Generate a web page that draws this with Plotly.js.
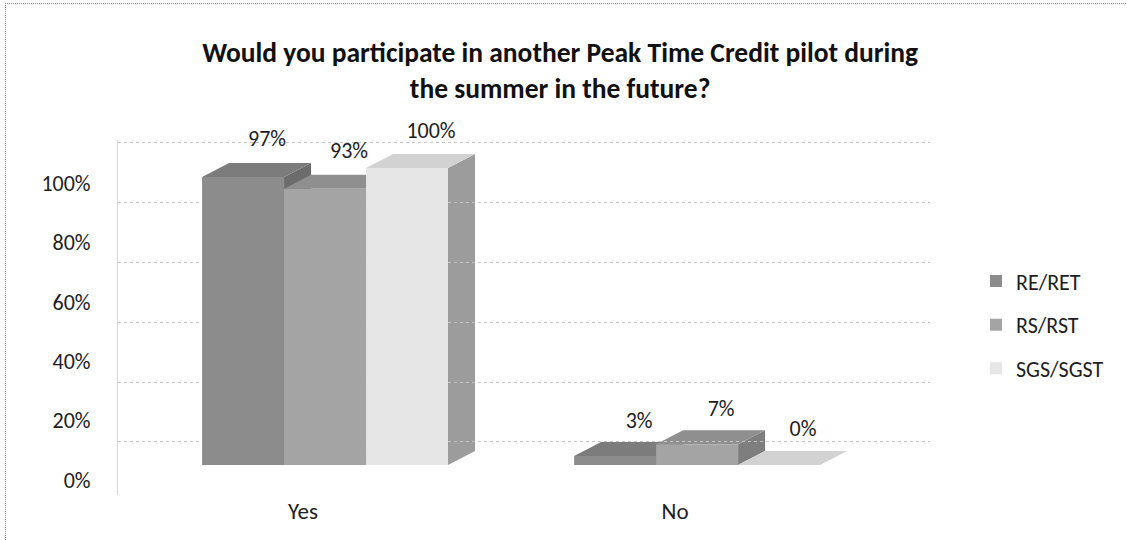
<!DOCTYPE html>
<html>
<head>
<meta charset="utf-8">
<script src="https://cdn.plot.ly/plotly-3.0.1.min.js"></script>
<style>
  html, body { margin: 0; padding: 0; background: #ffffff; }
  #frame {
    position: absolute; left: 5px; top: 3px; width: 1140px; height: 560px;
    border-left: 1px dotted #8a8a8a; border-top: 1px dotted #8a8a8a;
    pointer-events: none; z-index: 5;
  }
  #chart { position: absolute; left: 0; top: 0; width: 1127px; height: 540px; }
</style>
</head>
<body>
<div id="chart"></div>
<div id="frame"></div>
<script>
// Survey answers, share of respondents per rate group
const categories = ['Yes', 'No'];
const seriesNames = ['RE/RET', 'RS/RST', 'SGS/SGST'];
const reRet = [0.97, 0.03];
const rsRst = [0.93, 0.07];
const sgsSgst = [1.00, 0.00];
const percentTicks = [0, 0.2, 0.4, 0.6, 0.8, 1.0];
const percentTickText = ['0%', '20%', '40%', '60%', '80%', '100%'];

const seriesValues = [reRet, rsRst, sgsSgst];

// face shades for each series: front, top, side
const frontColors = ['#8c8c8c', '#a4a4a4', '#e6e6e6'];
const topColors = ['#7c7c7c', '#8f8f8f', '#d2d2d2'];
const sideColors = ['#6c6c6c', '#7e7e7e', '#9c9c9c'];

const FONT = 'Carlito, Lato, "Open Sans", sans-serif';
const TEXT = '#1e1e1e';

// plot geometry (pixels) and axis windows
const W = 1127, H = 540;
const M = { l: 118, r: 197, t: 140, b: 45 };
const BARGAP = 0.339;
const xRange = [-0.5565, 1.626];
const yBarRange = [-0.101, 1.0943];
const yWallRange = [-0.1773, 1.0100];
const pxPerX = (W - M.l - M.r) / (xRange[1] - xRange[0]);
const pxPerY = (H - M.t - M.b) / (yBarRange[1] - yBarRange[0]);

// depth of the bar blocks, in pixels
const DEPTH_X = 27, DEPTH_Y = 14;
const dx = DEPTH_X / pxPerX, dy = DEPTH_Y / pxPerY;
const labelShift = 24 / pxPerX;

const barW = (1 - BARGAP) / seriesNames.length;

// top and side faces of every bar, built from the series values
const shapes = [];
seriesValues.forEach((vals, i) => {
  vals.forEach((v, k) => {
    const xl = k - (1 - BARGAP) / 2 + i * barW;
    const xr = xl + barW;
    shapes.push({
      type: 'path', xref: 'x', yref: 'y', layer: 'below',
      path: `M${xr},0 L${xr},${v} L${xr + dx},${v + dy} L${xr + dx},${dy} Z`,
      fillcolor: sideColors[i], line: { width: 0 }
    });
    shapes.push({
      type: 'path', xref: 'x', yref: 'y', layer: 'below',
      path: `M${xl},${v} L${xr},${v} L${xr + dx},${v + dy} L${xl + dx},${v + dy} Z`,
      fillcolor: topColors[i], line: { width: 0 }
    });
  });
});

const barTraces = seriesNames.map((name, i) => ({
  type: 'bar',
  name: name,
  x: categories,
  y: seriesValues[i],
  xaxis: 'x',
  yaxis: 'y',
  legendgroup: name,
  marker: { color: frontColors[i], line: { width: 0 } },
  hoverinfo: 'name+y'
}));

// value labels sit above the back edge of each block
const labelTraces = seriesNames.map((name, i) => ({
  type: 'scatter',
  mode: 'text',
  name: name + ' label',
  x: categories,
  y: seriesValues[i],
  xaxis: 'x2',
  yaxis: 'y3',
  text: seriesValues[i].map(v => Math.round(v * 100) + '%'),
  textposition: 'top center',
  textfont: { family: FONT, size: 22, color: TEXT },
  cliponaxis: false,
  showlegend: false,
  hoverinfo: 'skip'
}));

const layout = {
  width: W,
  height: H,
  paper_bgcolor: '#ffffff',
  plot_bgcolor: 'rgba(0,0,0,0)',
  margin: M,
  font: { family: FONT, size: 22, color: TEXT },
  title: {
    text: 'Would you participate in another Peak Time Credit pilot during<br>the summer in the future?',
    font: { family: FONT, size: 27.5, color: '#111111', weight: 'bold' },
    x: 0.497, xref: 'container', xanchor: 'center',
    y: 0.885, yref: 'container', yanchor: 'top'
  },
  barmode: 'group',
  bargap: BARGAP,
  bargroupgap: 0,
  scattermode: 'group',
  scattergap: BARGAP,
  showlegend: true,
  legend: {
    xref: 'container', yref: 'container',
    x: 0.866, y: 0.518, xanchor: 'left', yanchor: 'top',
    font: { family: FONT, size: 22, color: TEXT },
    tracegroupgap: 12,
    itemwidth: 30,
    bgcolor: 'rgba(0,0,0,0)'
  },
  xaxis: {
    type: 'category',
    range: xRange,
    showgrid: false, zeroline: false, showline: false,
    ticks: '', tickfont: { family: FONT, size: 23, color: TEXT },
    ticklabelstandoff: 0,
    ticklabelshift: -22,
    fixedrange: true
  },
  xaxis2: {
    type: 'category',
    overlaying: 'x',
    range: [xRange[0] - labelShift, xRange[1] - labelShift],
    showgrid: false, zeroline: false, showline: false,
    showticklabels: false, ticks: '',
    fixedrange: true
  },
  // bar scale, labelled along the front edge of the floor
  yaxis: {
    range: yBarRange,
    tickvals: percentTicks, ticktext: percentTickText,
    tickfont: { family: FONT, size: 22, color: TEXT },
    ticklabelstandoff: 22,
    ticklabelshift: 15,
    ticks: '',
    showgrid: false,
    zeroline: false,
    showline: true, linecolor: '#d6d6d6', linewidth: 1,
    fixedrange: true
  },
  // gridlines on the back wall
  yaxis3: {
    overlaying: 'y', side: 'left',
    range: yWallRange,
    tickvals: percentTicks,
    showticklabels: false, ticks: '',
    showgrid: true, gridcolor: '#c4c4c4', gridwidth: 1, griddash: 'dot',
    zeroline: false, showline: false,
    fixedrange: true
  },
  shapes: shapes
};

Plotly.newPlot('chart', barTraces.concat(labelTraces), layout, { displayModeBar: false, staticPlot: true });
</script>
</body>
</html>
